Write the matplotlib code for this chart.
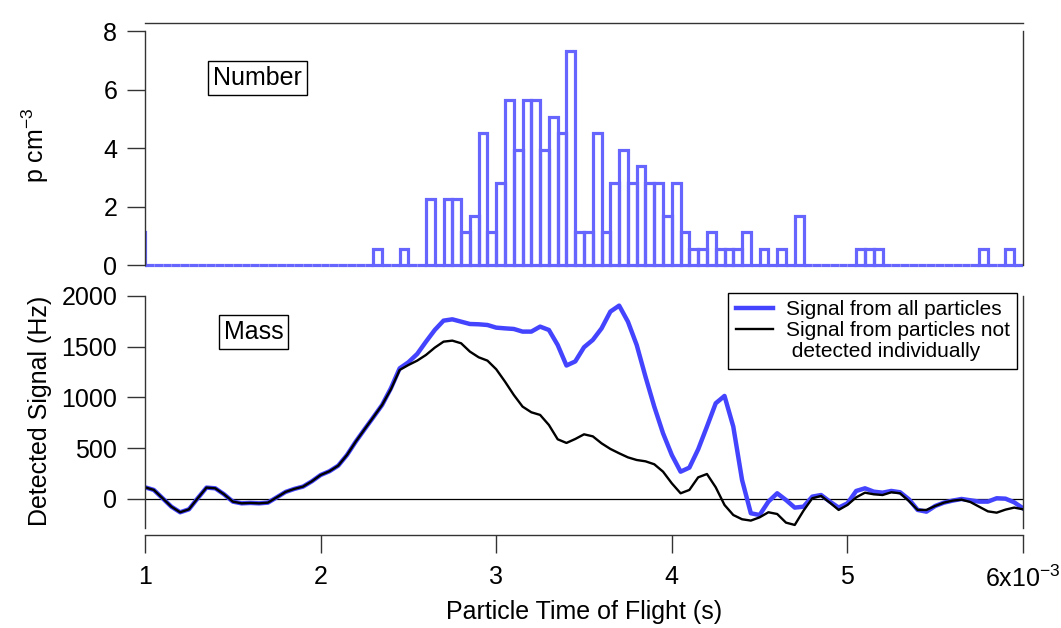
import numpy as np
import matplotlib
matplotlib.use("Agg")
import matplotlib.pyplot as plt
from matplotlib.lines import Line2D

plt.rcParams['font.family'] = ['Liberation Sans', 'DejaVu Sans']
plt.rcParams['mathtext.default'] = 'regular'

# --- data -------------------------------------------------------------
# histogram (number concentration), bins 0.05e-3 s wide, left edges from 0.95e-3 s
hist_left = np.round(np.arange(0.95e-3, 6.0e-3 - 1e-9, 0.05e-3), 7)
hist_vals = [1.13] + [0] * 26 + [
    0.56, 0, 0, 0.56, 0, 0, 2.25, 0, 2.25, 2.25,          # 2.30 - 2.75
    1.13, 1.69, 4.5, 1.13, 2.81, 5.63, 3.94, 5.63, 5.63, 3.94,  # 2.80 - 3.25
    5.06, 4.5, 7.31, 1.13, 1.13, 4.5, 1.13, 2.81, 3.94, 2.81,   # 3.30 - 3.75
    3.38, 2.81, 2.81, 1.69, 2.81, 1.13, 0.56, 0.56, 1.13, 0.56,  # 3.80 - 4.25
    0.56, 0.56, 1.13, 0, 0.56, 0, 0.56, 0, 1.69,                # 4.30 - 4.70
    0, 0, 0, 0, 0, 0,                                           # 4.75 - 5.00
    0.56, 0.56, 0.56,                                           # 5.05 - 5.15
    0, 0, 0, 0, 0, 0, 0, 0, 0, 0, 0,                            # 5.20 - 5.70
    0.56, 0, 0, 0.56, 0]                                        # 5.75 - 5.95

# mass signal, one point every 0.05e-3 s from 1e-3 to 6e-3 s
tof = np.linspace(1e-3, 6e-3, 101)
all_particles = [
    115, 89, 7, -76, -131, -102, 7, 112, 105, 46,
    -26, -43, -39, -43, -36, 16, 69, 99, 122, 174,
    236, 273, 328, 433, 565, 686, 805, 926, 1090, 1287,
    1347, 1429, 1550, 1665, 1757, 1770, 1747, 1724, 1721, 1714,
    1688, 1681, 1675, 1649, 1649, 1698, 1665, 1517, 1315, 1355,
    1495, 1567, 1681, 1846, 1905, 1747, 1517, 1205, 910, 647,
    433, 269, 309, 489, 713, 943, 1015, 713, 187, -141,
    -158, -26, 56, -10, -85, -76, 23, 39, -26, -85,
    -43, 79, 105, 72, 62, 79, 66, -3, -108, -125,
    -69, -36, -16, 0, -13, -26, -26, 7, 3, -33,
    -92]
not_detected = [
    115, 89, 7, -76, -131, -102, 7, 112, 105, 46,
    -26, -43, -39, -43, -36, 16, 69, 99, 122, 174,
    236, 273, 328, 433, 565, 686, 805, 926, 1080, 1271,
    1320, 1363, 1419, 1491, 1550, 1560, 1534, 1452, 1396, 1363,
    1278, 1156, 1025, 910, 854, 828, 729, 588, 552, 591,
    637, 617, 548, 493, 450, 410, 384, 371, 342, 269,
    154, 56, 89, 213, 246, 115, -59, -158, -200, -213,
    -181, -131, -148, -233, -256, -115, 7, 30, -36, -108,
    -59, 16, 62, 46, 39, 66, 56, -20, -108, -108,
    -69, -36, -16, -7, -30, -76, -122, -135, -105, -85,
    -102]

x_ticks = [1e-3, 2e-3, 3e-3, 4e-3, 5e-3, 6e-3]
x_ticklabels = ['1', '2', '3', '4', '5', '6x10$^{-3}$']
top_yticks = [0, 2, 4, 6, 8]
bottom_yticks = [0, 500, 1000, 1500, 2000]

hist_color = '#6666ff'
all_color = '#4444ff'
axis_color = '#333333'

# --- figure -----------------------------------------------------------
fig = plt.figure(figsize=(10.61, 6.28), dpi=100)
ax1 = fig.add_axes([0.1367, 0.5710, 0.8275, 0.3922])
ax2 = fig.add_axes([0.1367, 0.1594, 0.8275, 0.3693], sharex=ax1)

# top: number histogram
ax1.bar(hist_left, hist_vals, width=0.05e-3, align='edge', fill=False,
        edgecolor=hist_color, linewidth=2.3)
ax1.set_xlim(1e-3, 6e-3)
ax1.set_ylim(-0.15, 8.27)
ax1.set_yticks(top_yticks)
ax1.spines['bottom'].set_visible(False)
ax1.spines['left'].set_bounds(0, 8)
ax1.spines['right'].set_bounds(0, 8)
ax1.tick_params(axis='x', bottom=False, labelbottom=False)
ax1.text(0.1276, 0.7755, 'Number', transform=ax1.transAxes, fontsize=18,
         ha='center', va='center',
         bbox=dict(boxstyle='square,pad=0.2', fc='white', ec='black', lw=1))

# bottom: mass signal
ax2.axhline(0, color='black', lw=0.9)
ax2.plot(tof, all_particles, color=all_color, lw=3.2, solid_joinstyle='round')
ax2.plot(tof, not_detected, color='black', lw=1.7, solid_joinstyle='round')
ax2.set_ylim(-285, 2000)
ax2.set_yticks(bottom_yticks)
ax2.set_xticks(x_ticks)
ax2.set_xticklabels(x_ticklabels)
ax2.spines['top'].set_visible(False)
ax2.spines['bottom'].set_position(('outward', 5))
ax2.text(0.1236, 0.843, 'Mass', transform=ax2.transAxes, fontsize=18,
         ha='center', va='center',
         bbox=dict(boxstyle='square,pad=0.2', fc='white', ec='black', lw=1))

handles = [Line2D([], [], color=all_color, lw=3.2),
           Line2D([], [], color='black', lw=1.7),
           Line2D([], [], color='none')]
labels = ['Signal from all particles', 'Signal from particles not',
          ' detected individually']
leg = ax2.legend(handles, labels, loc='upper right',
                 bbox_to_anchor=(0.9932, 1.0129), borderaxespad=0,
                 fontsize=15, fancybox=False, framealpha=1, edgecolor='black',
                 handlelength=1.8, handletextpad=0.6, labelspacing=0.1,
                 borderpad=0.35)
leg.get_frame().set_linewidth(1)

for ax in (ax1, ax2):
    for s in ax.spines.values():
        s.set_color(axis_color)
        s.set_linewidth(1)
    ax.tick_params(direction='out', length=13, width=1, color=axis_color,
                   labelsize=18, pad=7)
ax2.tick_params(axis='x', pad=9)

fig.text(35 / 1061, 1 - 145 / 628, 'p cm$^{-3}$', rotation=90,
         ha='center', va='center', fontsize=18)
fig.text(40 / 1061, 1 - 411 / 628, 'Detected Signal (Hz)', rotation=90,
         ha='center', va='center', fontsize=18)
fig.text(584 / 1061, 1 - 612 / 628, 'Particle Time of Flight (s)',
         ha='center', va='center', fontsize=18)

fig.savefig('out.png', dpi=100)
